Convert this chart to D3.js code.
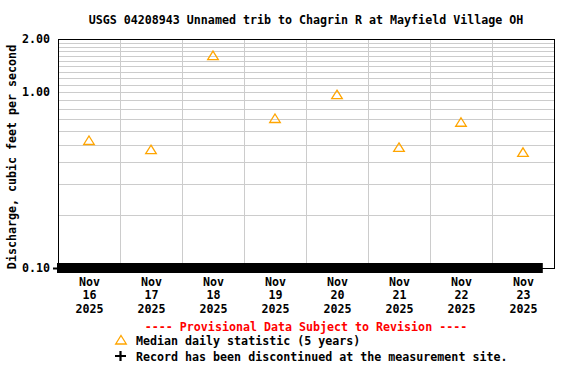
<!DOCTYPE html>
<html>
<head>
<meta charset="utf-8">
<script src="https://cdn.jsdelivr.net/npm/d3@7"></script>
<style>
  body { margin: 0; background: #fff; }
  text { font-family: "DejaVu Sans Mono", monospace; font-weight: bold; font-size: 11.65px; }
</style>
</head>
<body>
<div id="chart"></div>
<script>
const width = 576, height = 384;

// data
const days = ["2025-11-16", "2025-11-17", "2025-11-18", "2025-11-19",
              "2025-11-20", "2025-11-21", "2025-11-22", "2025-11-23"];
const medianCfs = [0.53, 0.47, 1.61, 0.707, 0.965, 0.484, 0.673, 0.454];
const yTickValues = [0.1, 1, 2];
const yGridValues = [0.2, 0.3, 0.4, 0.5, 0.6, 0.7, 0.8, 0.9, 1.0,
                     1.1, 1.2, 1.3, 1.4, 1.5, 1.6, 1.7, 1.8, 1.9];
const recordSpan = ["2025-11-16T00:00:00Z", "2025-11-23T19:40:00Z"];
const title = "USGS 04208943 Unnamed trib to Chagrin R at Mayfield Village OH";

const margin = {top: 39, right: 22, bottom: 116, left: 58};

const svg = d3.select("#chart")
	.append("svg")
	.attr("width", width)
	.attr("height", height);

const x = d3.scaleUtc()
	.domain([new Date("2025-11-16T00:00:00Z"), new Date("2025-11-24T00:00:00Z")])
	.range([margin.left, width - margin.right]);

const y = d3.scaleLog()
	.domain([0.1, 2])
	.range([height - margin.bottom, margin.top]);

const noon = (d) => new Date(d + "T12:00:00Z");
const fmtMonth = d3.utcFormat("%b"), fmtDay = d3.utcFormat("%d"), fmtYear = d3.utcFormat("%Y");

// ================ grid ==================
svg.append("g")
	.attr("shape-rendering", "crispEdges")
	.selectAll("line.h")
	.data(yGridValues)
	.join("line")
	.attr("x1", x.range()[0])
	.attr("x2", x.range()[1])
	.attr("y1", (d) => Math.round(y(d)) + 0.5)
	.attr("y2", (d) => Math.round(y(d)) + 0.5)
	.attr("stroke", "#cccccc")
	.attr("stroke-width", 1);

const midnights = d3.utcDay.range(new Date("2025-11-17T00:00:00Z"), new Date("2025-11-24T00:00:00Z"));
svg.append("g")
	.attr("shape-rendering", "crispEdges")
	.selectAll("line")
	.data(midnights)
	.join("line")
	.attr("x1", (d) => Math.round(x(d)) + 0.5)
	.attr("x2", (d) => Math.round(x(d)) + 0.5)
	.attr("y1", y.range()[1])
	.attr("y2", y.range()[0])
	.attr("stroke", "#cccccc")
	.attr("stroke-width", 1);

// plot frame
svg.append("rect")
	.attr("x", x.range()[0] + 0.5)
	.attr("y", y.range()[1] + 0.5)
	.attr("width", x.range()[1] - x.range()[0])
	.attr("height", y.range()[0] - y.range()[1])
	.attr("fill", "none")
	.attr("stroke", "#000")
	.attr("shape-rendering", "crispEdges");

// ================ axes ==================
const yAxis = svg.append("g")
	.attr("transform", `translate(${x.range()[0]},0)`)
	.call(d3.axisLeft(y).tickValues(yTickValues).tickFormat(d3.format(".2f")).tickSize(0).tickPadding(8));
yAxis.select(".domain").remove();
yAxis.selectAll("text")
	.attr("font-size", null)
	.attr("font-family", null)
	.attr("fill", "#000");

// small tick at the bottom value
svg.append("line")
	.attr("x1", x.range()[0] - 5)
	.attr("x2", x.range()[0])
	.attr("y1", y(0.1) + 0.5)
	.attr("y2", y(0.1) + 0.5)
	.attr("stroke", "#000")
	.attr("stroke-width", 2);

const xAxis = svg.append("g")
	.attr("transform", `translate(0,${y.range()[0]})`)
	.call(d3.axisBottom(x).tickValues(days.map(noon)).tickSize(0).tickFormat(""));
xAxis.select(".domain").remove();
xAxis.selectAll(".tick").each(function(d) {
	const t = d3.select(this).append("text")
		.attr("fill", "#000")
		.attr("text-anchor", "middle");
	[fmtMonth(d), fmtDay(d), fmtYear(d)].forEach((s, i) => {
		t.append("tspan").attr("x", 0).attr("y", 18 + i * 13.3).text(s);
	});
});

// ================ record bar ==================
svg.append("line")
	.attr("x1", x(new Date(recordSpan[0])) - 1)
	.attr("x2", x(new Date(recordSpan[1])))
	.attr("y1", y(0.1))
	.attr("y2", y(0.1))
	.attr("stroke", "#000")
	.attr("stroke-width", 10);

// ================ median triangles ==================
const tri = "M0,-4.5 L5.3,4 L-5.3,4 Z";
svg.append("g")
	.selectAll("path")
	.data(days.map((d, i) => ({date: noon(d), v: medianCfs[i]})))
	.join("path")
	.attr("d", tri)
	.attr("transform", (d) => `translate(${x(d.date)},${y(d.v)})`)
	.attr("fill", "none")
	.attr("stroke", "#ffa500")
	.attr("stroke-width", 1.3);

// ================ texts ==================
svg.append("text")
	.attr("x", (x.range()[0] + x.range()[1]) / 2)
	.attr("y", 24)
	.attr("text-anchor", "middle")
	.text(title);

svg.append("text")
	.attr("transform", "translate(16,157) rotate(-90)")
	.attr("text-anchor", "middle")
	.text("Discharge, cubic feet per second");

svg.append("text")
	.attr("x", (x.range()[0] + x.range()[1]) / 2)
	.attr("y", 331)
	.attr("text-anchor", "middle")
	.attr("fill", "#ff0000")
	.text("---- Provisional Data Subject to Revision ----");

svg.append("path")
	.attr("d", tri)
	.attr("transform", "translate(121,340)")
	.attr("fill", "none")
	.attr("stroke", "#ffa500")
	.attr("stroke-width", 1.3);
svg.append("text")
	.attr("x", 136)
	.attr("y", 345)
	.text("Median daily statistic (5 years)");

svg.append("path")
	.attr("d", "M115,356 H126 M120.5,351 V361")
	.attr("stroke", "#000")
	.attr("stroke-width", 2.2);
svg.append("text")
	.attr("x", 136)
	.attr("y", 361)
	.text("Record has been discontinued at the measurement site.");
</script>
</body>
</html>
